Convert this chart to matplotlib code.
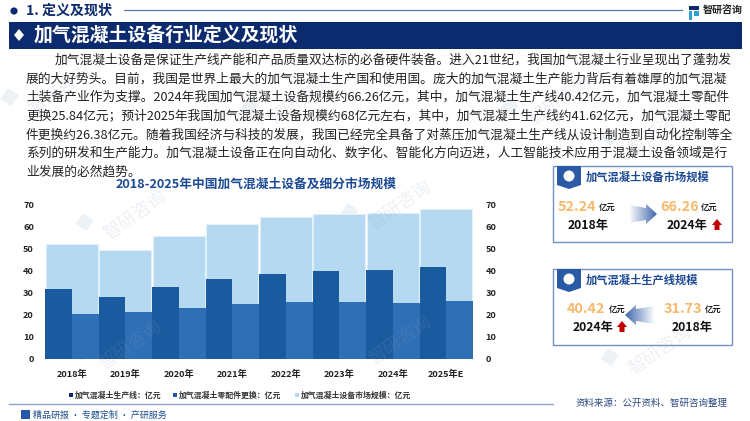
import numpy as np
import matplotlib; matplotlib.use("Agg"); import matplotlib.pyplot as plt
from matplotlib.patches import Rectangle, Polygon, Circle

plt.rcParams['font.family'] = ['Noto Sans CJK SC', 'DejaVu Sans']

NAVY="#0c2a6e"; TITLE="#1c4a94"; DARK="#1a5a9f"; MID="#2f6fb6"; LIGHT="#b5d9f0"
ORANGE="#f8b96c"; BORDER="#7392c6"; RED="#c00000"

years = ["2018年","2019年","2020年","2021年","2022年","2023年","2024年","2025年E"]
line_vals = [31.73,28.0,32.8,36.2,38.6,39.7,40.42,41.62]
parts_vals = [20.5,21.5,23.0,24.9,25.8,25.9,25.6,26.38]
total_vals = [52.24,49.5,55.8,61.1,64.4,66.0,66.26,68.0]
y_ticks = [0,10,20,30,40,50,60,70]
legend_names = ["加气混凝土生产线：亿元","加气混凝土零配件更换：亿元","加气混凝土设备市场规模：亿元"]

body_lines = [
 "加气混凝土设备是保证生产线产能和产品质量双达标的必备硬件装备。进入21世纪，我国加气混凝土行业呈现出了蓬勃发",
 "展的大好势头。目前，我国是世界上最大的加气混凝土生产国和使用国。庞大的加气混凝土生产能力背后有着雄厚的加气混凝",
 "土装备产业作为支撑。2024年我国加气混凝土设备规模约66.26亿元，其中，加气混凝土生产线40.42亿元，加气混凝土零配件",
 "更换25.84亿元；预计2025年我国加气混凝土设备规模约68亿元左右，其中，加气混凝土生产线约41.62亿元，加气混凝土零配",
 "件更换约26.38亿元。随着我国经济与科技的发展，我国已经完全具备了对蒸压加气混凝土生产线从设计制造到自动化控制等全",
 "系列的研发和生产能力。加气混凝土设备正在向自动化、数字化、智能化方向迈进，人工智能技术应用于混凝土设备领域是行",
 "业发展的必然趋势。",
]

fig = plt.figure(figsize=(7.5,4.21), dpi=100)
bg = fig.add_axes([0,0,1,1]); bg.set_xlim(0,750); bg.set_ylim(421,0); bg.axis("off")

# ---- watermark, drawn over everything but very faint ----
for wx,wy in [(135,215),(400,205),(660,130),(130,345),(400,340),(660,350),(300,100),(560,100),(60,90)]:
    fig.text(wx/750,1-wy/421,"智研咨询",fontsize=13,color="#8fa3ba",alpha=0.16,rotation=35,ha="center",va="center")
    bg.add_patch(Rectangle((wx-52,wy-2),13,13,angle=35,fc="#edf2f7",ec="none",zorder=1))

# ---- header ----
bg.add_patch(Circle((14,11),3.6,fc=NAVY,ec="none"))
bg.text(26,11,"1. 定义及现状",fontsize=10.1,fontweight="bold",color=NAVY,va="center")
bg.plot([124,682],[10,10],color="#5a78b0",lw=0.9)
bg.add_patch(Rectangle((689,6),10,4,fc=NAVY,ec="none"))
bg.add_patch(Rectangle((694,11),5,5,fc="#2f9fd8",ec="none"))
bg.add_patch(Rectangle((689,11),3,9,fc="#2f9fd8",ec="none"))
bg.text(703,11,"智研咨询",fontsize=7.2,fontweight="bold",color="#222222",va="center")
bg.add_patch(Rectangle((9,22),733,27,fc=NAVY,ec="none"))
bg.add_patch(Polygon([(14,35),(19,29),(24,35),(19,41)],fc="white",ec="none"))
bg.text(34,35,"加气混凝土设备行业定义及现状",fontsize=13.6,fontweight="bold",color="white",va="center")

# ---- body text ----
for i,ln in enumerate(body_lines):
    bg.text(55 if i==0 else 26,60+i*18.7,ln,fontsize=9.15,color="#222222",va="center")

bg.text(256,184,"2018-2025年中国加气混凝土设备及细分市场规模",fontsize=9.15,fontweight="bold",color=TITLE,
        ha="center",va="center")

# ---- chart ----
ax = fig.add_axes([45/750,1-359/421,428/750,154.3/421])
ax.patch.set_alpha(0)
xs = np.arange(len(years))
ax.bar(xs,total_vals,width=0.98,color=LIGHT,edgecolor="#e4f2fb",linewidth=0.6,zorder=2)
ax.bar(xs-0.25,line_vals,width=0.5,color=DARK,zorder=3)
ax.bar(xs+0.25,parts_vals,width=0.5,color=MID,zorder=3)
ax.set_xlim(-0.5,7.5); ax.set_ylim(0,70)
ax.set_xticks(xs); ax.set_xticklabels(years,fontsize=6.6,fontweight="bold",color="#222222")
ax.set_yticks(y_ticks); ax.set_yticklabels(y_ticks,fontsize=6.6,fontweight="bold",color="#222222")
ax.tick_params(length=0,pad=8)
ax.tick_params(axis="x",pad=8)
for s in ax.spines.values(): s.set_visible(False)
ax2 = ax.twinx(); ax2.set_ylim(0,70); ax2.set_yticks(y_ticks)
ax2.set_yticklabels(y_ticks,fontsize=6.6,fontweight="bold",color="#222222")
ax2.tick_params(length=0,pad=9)
for s in ax2.spines.values(): s.set_visible(False)

# ---- legend ----
for lx,name,c in zip([68.5,172.5,294.5],legend_names,[NAVY,"#2556a8",LIGHT]):
    bg.add_patch(Rectangle((lx,392.5),4.5,4.5,fc=c,ec="none"))
    bg.text(lx+6.5,395,name,fontsize=5.7,fontweight="bold",color="#333333",va="center")

# ---- footer ----
bg.plot([9,553],[404,404],color="#8ea6d0",lw=1.0)
bg.add_patch(Rectangle((21,410),9,9,fc="#2556a8",ec="none"))
bg.text(33,415,"精品研报 · 专题定制 · 产研服务",fontsize=6.5,color="#1f4e8c",va="center")
bg.text(575,403,"资料来源：公开资料、智研咨询整理",fontsize=6.8,color="#2b4a80",va="center")

# ---- cards ----
def gradient_arrow(x0,x1,yc):
    sign = 1 if x1>x0 else -1
    head = x1-sign*11
    pts = [(x0,yc-9),(head,yc-6),(head,yc-10),(x1,yc),(head,yc+10),(head,yc+6),(x0,yc+9)]
    grad = np.linspace(0,1,64).reshape(1,-1)
    if sign<0: grad = grad[:,::-1]
    cm = matplotlib.colors.LinearSegmentedColormap.from_list("g",["#ffffff","#3f68ad"])
    im = bg.imshow(grad,extent=(min(x0,x1),max(x0,x1),yc+11,yc-11),cmap=cm,aspect="auto",zorder=4)
    im.set_clip_path(Polygon(pts,transform=bg.transData))
    bg.set_xlim(0,750); bg.set_ylim(421,0)

def red_arrow(xc,yc):
    bg.add_patch(Polygon([(xc,yc-6),(xc+5,yc),(xc+2.5,yc),(xc+2.5,yc+5),(xc-2.5,yc+5),(xc-2.5,yc),(xc-5,yc)],fc=RED,ec="none",zorder=5))

def card(y0,title):
    bg.add_patch(Rectangle((553,y0),179,75.5,fc="none",ec=BORDER,lw=1.0,zorder=3))
    bg.add_patch(Polygon([(557,y0),(581,y0),(581,y0+19),(569,y0+23),(557,y0+19)],fc="#2a5aa6",ec="none",zorder=4))
    bg.add_patch(Circle((569,y0+10),5.5,fc="white",ec="none",zorder=5))
    bg.text(586,y0+11,title,fontsize=8.1,fontweight="bold",color=TITLE,va="center",zorder=5)

def value(x,y,val,unit_x):
    bg.text(x,y,val,fontsize=10.4,fontweight="bold",color=ORANGE,va="center",zorder=5)
    bg.text(unit_x,y+1,"亿元",fontsize=6,fontweight="bold",color="#222222",va="center",zorder=5)

card(166,"加气混凝土设备市场规模")
value(558,207,"52.24",599); value(660,207,"66.26",701)
bg.text(568,225,"2018年",fontsize=8.8,fontweight="bold",color="#111111",va="center",zorder=5)
bg.text(667,225,"2024年",fontsize=8.8,fontweight="bold",color="#111111",va="center",zorder=5)
red_arrow(717,225)
gradient_arrow(629,657,214)

card(269,"加气混凝土生产线规模")
value(567,309,"40.42",609); value(664,309,"31.73",705)
bg.text(573,327,"2024年",fontsize=8.8,fontweight="bold",color="#111111",va="center",zorder=5)
bg.text(672,327,"2018年",fontsize=8.8,fontweight="bold",color="#111111",va="center",zorder=5)
red_arrow(622,327)
gradient_arrow(655,625,315)

plt.savefig("out.png",dpi=100)
